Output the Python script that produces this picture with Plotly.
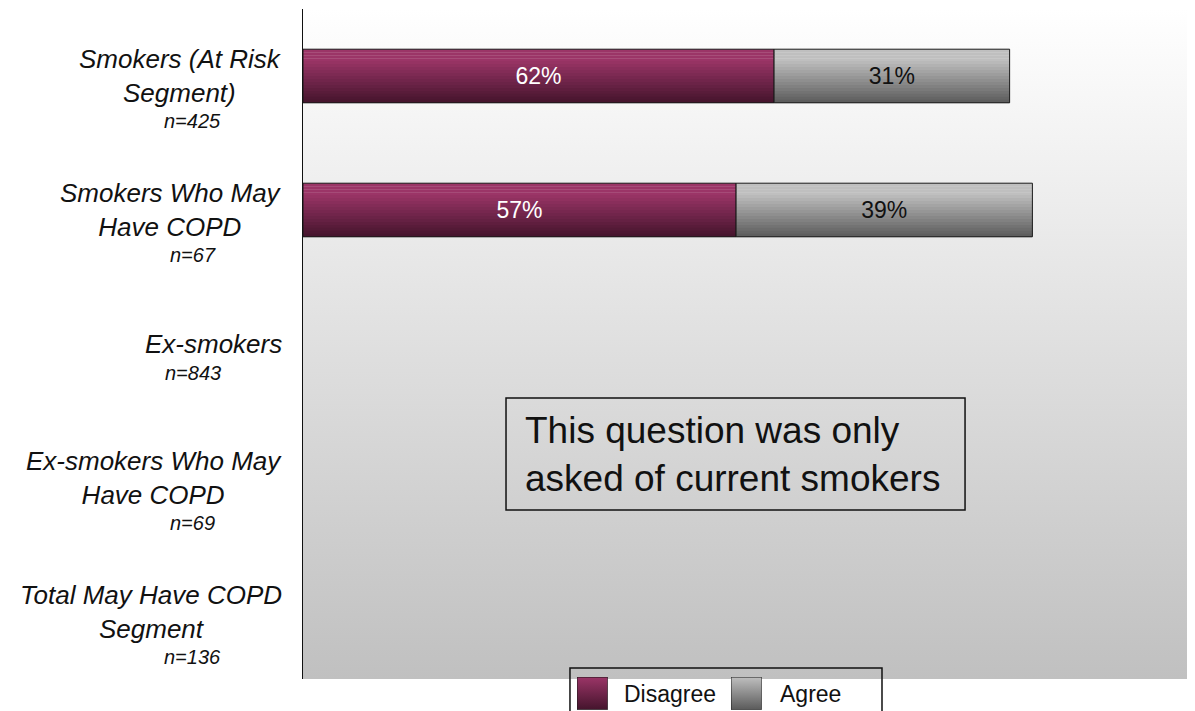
import base64

import plotly.graph_objects as go

# ------------------------------------------------------------------ #
# DATA
# ------------------------------------------------------------------ #
categories = [
    "Smokers (At Risk Segment)",
    "Smokers Who May Have COPD",
    "Ex-smokers",
    "Ex-smokers Who May Have COPD",
    "Total May Have COPD Segment",
]
category_labels = [
    "Smokers (At Risk<br>Segment)",
    "Smokers Who May<br>Have COPD",
    "Ex-smokers",
    "Ex-smokers Who May<br>Have COPD",
    "Total May Have COPD<br>Segment",
]
sample_sizes = [425, 67, 843, 69, 136]
disagree = [62, 57, None, None, None]
agree = [31, 39, None, None, None]
note_text = "This question was only<br>asked of current smokers"

FONT = "Liberation Sans, Arial, sans-serif"

# gradient endpoints (top -> bottom of each bar)
SERIES = [
    ("Disagree", disagree, (0x9b, 0x35, 0x67), (0x44, 0x14, 0x2c), "white"),
    ("Agree", agree, (0xbf, 0xbf, 0xbf), (0x5a, 0x5a, 0x5a), "#111111"),
]
BAR_W = 0.4
N_SLICES = 18


def blend(c0, c1, t):
    # keep the top part flat, then darken towards the bottom
    t = max(0.0, (t - 0.2) / 0.8)
    return "rgb(%d,%d,%d)" % tuple(round(a + (b - a) * t) for a, b in zip(c0, c1))


def svg_gradient(c0, c1, border=None):
    top = "rgb(%d,%d,%d)" % c0
    bot = "rgb(%d,%d,%d)" % c1
    stroke = f'stroke="{border}" stroke-width="3"' if border else ""
    svg = (
        '<svg xmlns="http://www.w3.org/2000/svg" width="100" height="100" preserveAspectRatio="none">'
        '<defs><linearGradient id="g" x1="0" y1="0" x2="0" y2="1">'
        f'<stop offset="0" stop-color="{top}"/><stop offset="1" stop-color="{bot}"/>'
        '</linearGradient></defs>'
        f'<rect x="0" y="0" width="100" height="100" fill="url(#g)" {stroke}/></svg>'
    )
    return "data:image/svg+xml;base64," + base64.b64encode(svg.encode()).decode()


fig = go.Figure()

bases = [0] * len(categories)
for name, vals, c_top, c_bot, txt_color in SERIES:
    base = [b if v is not None else None for b, v in zip(bases, vals)]
    # gradient: stacked thin slices of the same bar
    for k in range(N_SLICES):
        fig.add_trace(go.Bar(
            y=categories, x=vals, base=base, orientation="h",
            width=BAR_W / N_SLICES + 0.002,
            offset=-BAR_W / 2 + k * BAR_W / N_SLICES,
            marker=dict(color=blend(c_top, c_bot, (k + 0.5) / N_SLICES), line=dict(width=0)),
            showlegend=False, hoverinfo="skip",
        ))
    # outline + value labels
    fig.add_trace(go.Bar(
        y=categories, x=vals, base=base, orientation="h", name=name,
        width=BAR_W, offset=-BAR_W / 2,
        marker=dict(color="rgba(0,0,0,0)", line=dict(color="#1a1a1a", width=1)),
        text=[f"{v}%" if v is not None else "" for v in vals],
        textposition="inside", insidetextanchor="middle",
        textfont=dict(family=FONT, size=23, color=txt_color),
        showlegend=False,
    ))
    bases = [b + (v or 0) for b, v in zip(bases, vals)]

# category labels and sample sizes
for cat, lab, n in zip(categories, category_labels, sample_sizes):
    lines = lab.count("<br>") + 1
    fig.add_annotation(
        x=-0.021, xref="paper", y=cat, yref="y", xanchor="right", yanchor="middle",
        text=f"<i>{lab}</i>", align="center", showarrow=False,
        font=dict(family=FONT, size=26, color="#111111"),
    )
    fig.add_annotation(
        x=-0.1235, xref="paper", y=cat, yref="y", xanchor="center", yanchor="middle",
        yshift=-(16 * lines + 13), text=f"<i>n={n}</i>", showarrow=False,
        font=dict(family=FONT, size=20, color="#111111"),
    )

# note box
fig.add_shape(type="rect", xref="paper", yref="paper", x0=0.2276, x1=0.7422, y0=0.2522, y1=0.4194,
              line=dict(color="#111111", width=1.5), fillcolor="rgba(0,0,0,0)")
fig.add_annotation(
    x=0.2466, xref="paper", y=0.3358, yref="paper", xanchor="left", yanchor="middle",
    text=note_text, align="left", showarrow=False,
    font=dict(family=FONT, size=37, color="#111111"),
)

# custom legend
fig.add_shape(type="rect", xref="paper", yref="paper", x0=0.2993, x1=0.6491, y0=-0.12, y1=0.0164,
              line=dict(color="#111111", width=1.5), fillcolor="rgba(0,0,0,0)")
legend_x = [0.3072, 0.4798]
text_x = [0.3576, 0.5325]
for (name, _, c_top, c_bot, _), sx, tx in zip(SERIES, legend_x, text_x):
    fig.add_layout_image(
        source=svg_gradient(c_top, c_bot, border="#111111"), xref="paper", yref="paper",
        x=sx, y=0.003, sizex=0.0345, sizey=0.049, xanchor="left", yanchor="top",
        sizing="stretch", layer="above",
    )
    fig.add_annotation(
        x=tx, xref="paper", y=-0.0224, yref="paper", xanchor="left", yanchor="middle",
        text=name, showarrow=False, font=dict(family=FONT, size=23, color="#111111"),
    )

# plot area background gradient
fig.add_layout_image(
    source=svg_gradient((255, 255, 255), (0xc0, 0xc0, 0xc0)), xref="paper", yref="paper",
    x=0, y=1, sizex=1, sizey=1, xanchor="left", yanchor="top", sizing="stretch", layer="below",
)

# the page adds an 8px body margin, so the figure is sized to fit the window
fig.update_layout(
    width=1187, height=703,
    barmode="overlay",
    paper_bgcolor="white",
    plot_bgcolor="rgba(0,0,0,0)",
    showlegend=False,
    margin=dict(l=295, r=0, t=1, b=32),
    xaxis=dict(range=[0, 117.4], visible=False, fixedrange=True),
    yaxis=dict(
        type="category", categoryorder="array", categoryarray=categories,
        range=[4.5, -0.5], showticklabels=False, ticks="",
        showline=True, linecolor="#111111", linewidth=1, showgrid=False, zeroline=False,
    ),
    font=dict(family=FONT),
)

fig.write_html("out.html")
